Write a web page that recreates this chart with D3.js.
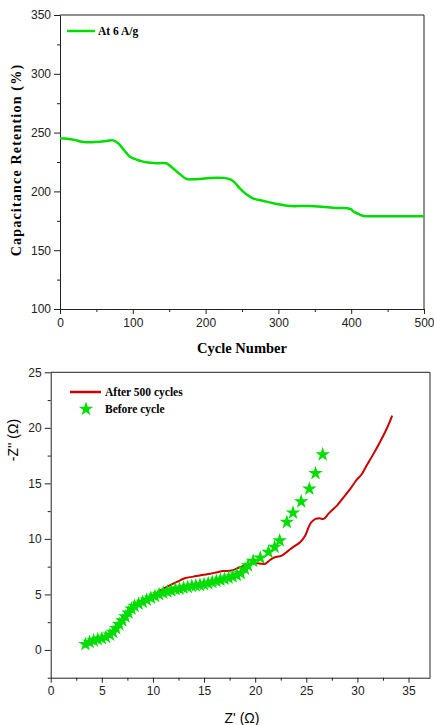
<!DOCTYPE html>
<html>
<head>
<meta charset="utf-8">
<script src="https://cdn.jsdelivr.net/npm/d3@7"></script>
<style>
  body { margin: 0; background: #fff; }
  svg { display: block; }
  .tick text { font-family: "Liberation Sans", Arial, sans-serif; font-size: 12px; fill: #222; }
  .domain, .tick line { stroke: #222; }
  .serif { font-family: "Liberation Serif", "Times New Roman", serif; font-weight: bold; }
  .sans { font-family: "Liberation Sans", Arial, sans-serif; }
</style>
</head>
<body>
<div id="chart"></div>
<script>
// ---- top panel: cycling stability at 6 A/g ----
const cycles = [0, 10, 20, 30, 41, 55, 65, 73, 80, 88, 96, 105, 114, 124, 133, 146, 155, 165, 174, 183,
  192, 205, 215, 225, 234, 240, 247, 256, 265, 280, 293, 305, 316, 330, 343, 360, 375, 385, 394, 400,
  403, 410, 417, 430, 450, 470, 500];
const retention = [245.2, 244.8, 243.8, 242.3, 241.8, 242.2, 243.0, 243.4, 240.9, 235.0, 229.5, 227.0,
  225.3, 224.3, 223.9, 223.9, 219.6, 214.5, 210.5, 210.3, 210.6, 211.3, 211.7, 211.5, 210.2, 207.5,
  202.6, 197.5, 194.1, 191.8, 189.9, 188.6, 187.6, 187.5, 187.6, 187.0, 186.2, 185.9, 185.7, 184.8,
  182.9, 180.8, 179.1, 178.8, 178.8, 178.8, 178.8];
const cycleTicks = [0, 100, 200, 300, 400, 500];
const retentionTicks = [100, 150, 200, 250, 300, 350];

// ---- bottom panel: Nyquist plots ----
const afterZre = [3.6, 4.0, 4.5, 5.0, 5.5, 6.0, 6.5, 7.0, 7.5, 8.0, 8.5, 9.0, 9.7, 10.3, 11.0, 11.6, 12.3,
  13.1, 13.95, 14.8, 15.6, 16.3, 16.9, 17.7, 18.5, 19.5, 20.15, 20.6, 21.0, 21.45, 21.8, 22.6, 23.2,
  23.7, 24.4, 24.9, 25.2, 25.5, 25.9, 26.3, 26.7, 27.2, 28.0, 28.6, 29.3, 29.9, 30.4, 30.9, 31.6,
  32.2, 32.7, 33.1, 33.4];
const afterZim = [0.45, 0.6, 0.8, 1.0, 1.2, 1.5, 2.1, 2.6, 3.2, 3.7, 4.1, 4.35, 4.75, 5.1, 5.5, 5.8, 6.1,
  6.45, 6.6, 6.75, 6.86, 7.0, 7.1, 7.16, 7.45, 7.76, 7.8, 7.76, 7.76, 8.1, 8.3, 8.5, 8.9,
  9.26, 9.7, 10.3, 11.0, 11.5, 11.8, 11.85, 11.8, 12.3, 13.0, 13.7, 14.5, 15.3, 15.8, 16.6, 17.7,
  18.7, 19.6, 20.4, 21.1];
const beforeZre = [3.4, 3.8, 4.2, 4.6, 5.0, 5.4, 5.8, 6.1, 6.4, 6.7, 7.0, 7.3, 7.6, 7.9, 8.2, 8.6, 9.0,
  9.4, 9.8, 10.2, 10.6, 11.0, 11.4, 11.8, 12.2, 12.6, 13.0, 13.4, 13.8, 14.2, 14.6, 15.0, 15.4, 15.8,
  16.2, 16.6, 17.0, 17.4, 17.8, 18.2, 18.6, 19.0, 19.3, 19.8, 20.5, 21.3, 21.9, 22.4, 23.1, 23.7,
  24.5, 25.3, 25.9, 26.6];
const beforeZim = [0.5, 0.7, 0.85, 0.95, 1.05, 1.15, 1.35, 1.6, 1.95, 2.3, 2.65, 3.0, 3.35, 3.7, 3.95,
  4.15, 4.3, 4.5, 4.7, 4.85, 5.0, 5.15, 5.25, 5.35, 5.45, 5.5, 5.6, 5.65, 5.75, 5.8, 5.85, 5.9, 6.0,
  6.1, 6.2, 6.3, 6.4, 6.5, 6.6, 6.75, 6.9, 7.3, 7.6, 8.0, 8.3, 8.8, 9.25, 9.85, 11.5, 12.35, 13.35,
  14.5, 15.9, 17.6];
const zreTicks = [0, 5, 10, 15, 20, 25, 30, 35];
const zimTicks = [0, 5, 10, 15, 20, 25];

const green = '#00dd00';
const red = '#cc0000';

const svg = d3.select('#chart').append('svg')
  .attr('width', 434)
  .attr('height', 725);

// draws a box with left/bottom axes, major + minor ticks
function panel(x, y, xTicks, yTicks, xMinor, yMinor) {
  const [x0, x1] = x.range();
  const [y0, y1] = y.range();
  const g = svg.append('g');

  g.append('g')
    .attr('transform', `translate(0,${y0})`)
    .call(d3.axisBottom(x).tickValues(xMinor).tickSize(3).tickFormat(''))
    .call(a => a.select('.domain').remove());
  g.append('g')
    .attr('transform', `translate(${x0},0)`)
    .call(d3.axisLeft(y).tickValues(yMinor).tickSize(3).tickFormat(''))
    .call(a => a.select('.domain').remove());

  g.append('g')
    .attr('transform', `translate(0,${y0})`)
    .call(d3.axisBottom(x).tickValues(xTicks).tickSize(5).tickSizeOuter(0).tickPadding(4));
  g.append('g')
    .attr('transform', `translate(${x0},0)`)
    .call(d3.axisLeft(y).tickValues(yTicks).tickSize(6).tickSizeOuter(0).tickPadding(3));

  g.append('path')
    .attr('d', `M${x0},${y1}H${x1}V${y0}`)
    .attr('fill', 'none')
    .attr('stroke', '#222');
  return g;
}

// ---- top panel ----
const x1 = d3.scaleLinear().domain([0, 500]).range([60, 424]);
const y1 = d3.scaleLinear().domain([100, 350]).range([309, 15]);
panel(x1, y1, cycleTicks, retentionTicks,
  [50, 150, 250, 350, 450], [125, 175, 225, 275, 325]);

svg.append('path')
  .datum(cycles.map((c, i) => [c, retention[i]]))
  .attr('fill', 'none')
  .attr('stroke', green)
  .attr('stroke-width', 2.5)
  .attr('d', d3.line().x(d => x1(d[0])).y(d => y1(d[1])).curve(d3.curveCatmullRom));

svg.append('line')
  .attr('x1', 67).attr('x2', 95).attr('y1', 31).attr('y2', 31)
  .attr('stroke', green).attr('stroke-width', 2.5);
svg.append('text').attr('class', 'serif')
  .attr('x', 98).attr('y', 35).attr('font-size', 11.5)
  .text('At 6 A/g');

svg.append('text').attr('class', 'serif')
  .attr('x', 242).attr('y', 353).attr('font-size', 14.5)
  .attr('text-anchor', 'middle')
  .text('Cycle Number');
svg.append('text').attr('class', 'serif')
  .attr('transform', 'translate(21,160) rotate(-90)')
  .attr('font-size', 14)
  .attr('letter-spacing', 1.2)
  .attr('text-anchor', 'middle')
  .text('Capacitance Retention (%)');

// ---- bottom panel ----
const x2 = d3.scaleLinear().domain([0, 37.1]).range([50.7, 430]);
const y2 = d3.scaleLinear().domain([-2.5, 25]).range([677.7, 372.3]);
panel(x2, y2, zreTicks, zimTicks,
  [2.5, 7.5, 12.5, 17.5, 22.5, 27.5, 32.5], [-2.5, 2.5, 7.5, 12.5, 17.5, 22.5]);

svg.append('path')
  .datum(afterZre.map((v, i) => [v, afterZim[i]]))
  .attr('fill', 'none')
  .attr('stroke', red)
  .attr('stroke-width', 2)
  .attr('d', d3.line().x(d => x2(d[0])).y(d => y2(d[1])).curve(d3.curveCatmullRom));

const star = d3.symbol().type(d3.symbolStar).size(65);
svg.append('g').selectAll('path')
  .data(beforeZre.map((v, i) => [v, beforeZim[i]]))
  .enter().append('path')
  .attr('transform', d => `translate(${x2(d[0])},${y2(d[1])})`)
  .attr('d', star)
  .attr('fill', green);

svg.append('line')
  .attr('x1', 70).attr('x2', 101).attr('y1', 392).attr('y2', 392)
  .attr('stroke', red).attr('stroke-width', 2.5);
svg.append('text').attr('class', 'serif')
  .attr('x', 105).attr('y', 396).attr('font-size', 11.5)
  .text('After 500 cycles');
svg.append('path')
  .attr('transform', 'translate(86,409)')
  .attr('d', star)
  .attr('fill', green);
svg.append('text').attr('class', 'serif')
  .attr('x', 105).attr('y', 413).attr('font-size', 11.5)
  .text('Before cycle');

svg.append('text').attr('class', 'sans')
  .attr('x', 242).attr('y', 723).attr('font-size', 14)
  .attr('text-anchor', 'middle')
  .text('Z\' (\u03A9)');
svg.append('text').attr('class', 'sans')
  .attr('transform', 'translate(18,440) rotate(-90)')
  .attr('font-size', 14)
  .attr('text-anchor', 'middle')
  .text('-Z\'\' (\u03A9)');
</script>
</body>
</html>
